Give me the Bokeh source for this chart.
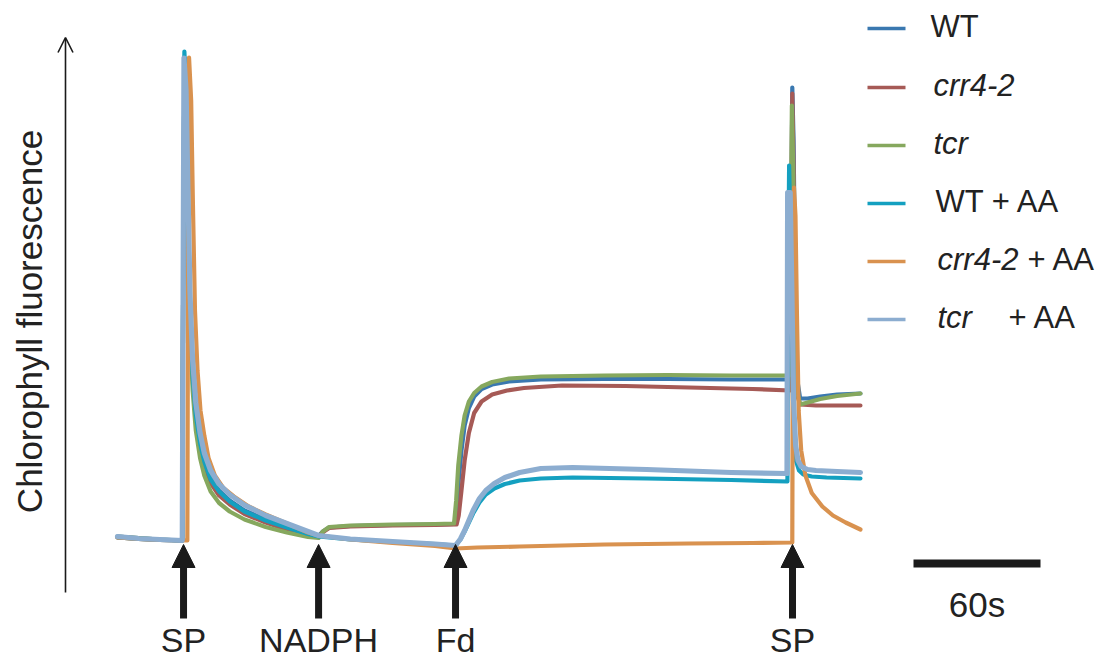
from bokeh.plotting import figure
from bokeh.models import Range1d, Arrow, NormalHead, OpenHead, Label
from bokeh.embed import file_html
from bokeh.resources import INLINE

# ---------------- data (time in s, fluorescence in arbitrary units) ----------------
series_names = ["WT", "crr4-2", "tcr", "WT + AA", "crr4-2 + AA", "tcr + AA"]
colors = ["#3a78b0", "#a65a56", "#86a85e", "#14a0c0", "#d9924f", "#8cadd0"]

t_wt = [0, 10, 20, 30.6, 31.0, 31.6, 32.4, 33.2, 34.2, 35.5, 37, 39, 41, 44, 48, 53, 60, 70, 80, 90, 95,
        97, 100, 110, 130, 150, 159.2, 160.2, 161.2, 162.5, 164, 166, 168.5, 172, 177, 185, 200, 230, 260,
        290, 317.8, 318.3, 318.8, 319.4, 320.2, 321.2, 322.5, 326, 332, 340, 351]
f_wt = [10.8, 10.5, 10.2, 10.0, 60, 106.5, 100, 80, 58, 44, 36, 30, 26, 22.5, 20, 18, 16, 14.2, 12.8, 11.4, 10.9,
        11.8, 12.6, 12.9, 13.1, 13.2, 13.3, 16, 22, 28, 33, 36.5, 38.8, 40.3, 41.2, 41.8, 42.2, 42.3, 42.3,
        42.2, 42.2, 70, 100.6, 90, 60, 42, 38.4, 38.4, 38.8, 39.2, 39.4]

t_crr = [0, 10, 20, 30.6, 31.0, 31.6, 32.4, 33.2, 34.2, 35.5, 37, 39, 41, 44, 48, 53, 60, 70, 80, 90, 95,
         97.5, 100, 110, 130, 150, 160.2, 161.2, 162.5, 164, 166, 168.5, 172, 177, 184, 192, 210, 240, 270,
         300, 317.8, 318.3, 318.8, 319.4, 320.2, 321.2, 322.5, 330, 340, 351]
f_crr = [10.6, 10.3, 10.1, 10.0, 60, 106.5, 99, 78, 56, 42, 34.5, 28.5, 25, 21.5, 19, 17.2, 15.3, 13.6, 12.2, 11.1, 10.8,
         11.8, 12.5, 12.8, 13.0, 13.1, 13.2, 15, 20, 26, 31.5, 35.5, 37.8, 39.2, 40.0, 40.5, 41.0, 40.9, 40.6,
         40.3, 40.0, 70, 99.4, 85, 55, 39, 37.2, 37.0, 37.0, 37.0]

t_tcr = [0, 10, 20, 30.6, 31.0, 31.6, 32.4, 33.2, 34.2, 35.5, 37, 39, 41, 44, 48, 53, 60, 70, 80, 90, 95,
         97, 100, 110, 130, 150, 159.0, 160.0, 161.0, 162.5, 164, 166, 168.5, 172, 177, 185, 200, 230, 260,
         290, 317.6, 318.1, 318.6, 319.2, 320.0, 321.0, 322.5, 326, 332, 340, 351]
f_tcr = [10.8, 10.5, 10.2, 10.0, 60, 106.5, 98, 76, 53, 40, 32, 26.5, 23, 19.8, 17.5, 15.8, 14.2, 12.7, 11.6, 10.7, 10.5,
         11.8, 12.7, 13.0, 13.2, 13.3, 13.4, 18, 25, 31, 35, 37.8, 39.5, 40.8, 41.7, 42.4, 42.8, 43.0, 43.1,
         43.0, 43.0, 70, 97, 85, 55, 40, 37.2, 37.6, 38.3, 38.9, 39.4]

t_wtaa = [0, 10, 20, 30.6, 31.0, 31.6, 32.4, 33.2, 34.2, 35.5, 37, 39, 41, 44, 48, 53, 60, 70, 80, 90, 95,
          110, 130, 150, 159.7, 162, 164, 166, 168, 171, 174, 178, 183, 190, 200, 215, 250, 290, 316.5,
          316.8, 317.3, 318.0, 318.8, 319.6, 320.5, 322, 324, 328, 335, 351]
f_wtaa = [10.6, 10.3, 10.1, 10.0, 60, 107.8, 99, 79, 57, 43, 35, 29.5, 25.8, 22.2, 19.8, 17.8, 15.8, 14.0, 12.6, 11.3, 10.8,
          10.2, 9.7, 9.3, 9.0, 10.2, 11.8, 13.6, 15.4, 17.6, 19.2, 20.4, 21.3, 22.0, 22.4, 22.6, 22.4, 22.1, 21.8,
          60, 85, 70, 45, 30, 26, 24, 23.2, 22.8, 22.6, 22.4]

t_crraa = [0, 10, 20, 33.0, 33.3, 33.8, 34.8, 35.6, 36.6, 37.8, 39.2, 41, 43, 46, 50, 55, 62, 70, 80, 90, 95,
           110, 130, 150, 159.7, 170, 190, 230, 270, 300, 318.8, 319.1, 319.6, 320.3, 321.0, 321.8, 323, 325,
           328, 333, 338, 344, 351]
f_crraa = [10.6, 10.3, 10.1, 10.0, 60, 106.6, 98, 78, 56, 44, 36, 31, 26.5, 23, 20.5, 18.8, 16.8, 15.2, 13.4, 11.6, 11.0,
           10.2, 9.5, 8.9, 8.4, 8.6, 8.8, 9.2, 9.4, 9.5, 9.6, 60, 80.6, 75, 55, 36, 28, 23,
           19.5, 16.8, 15.0, 13.6, 12.2]

t_tcraa = [0, 10, 20, 30.6, 31.0, 31.4, 32.4, 33.2, 34.2, 35.5, 37, 39, 41, 44, 48, 53, 60, 70, 80, 90, 95,
           110, 130, 150, 159.7, 162, 164, 166, 168, 171, 174, 178, 183, 190, 200, 215, 250, 290, 316.3,
           316.6, 317.8, 318.6, 319.4, 320.4, 321.5, 323, 326, 330, 340, 351]
f_tcraa = [10.8, 10.4, 10.2, 10.0, 60, 106.5, 100, 82, 60, 46, 37.5, 31.5, 27.5, 24, 21.3, 19.2, 17.1, 15.0, 13.4, 11.8, 11.0,
           10.3, 9.8, 9.3, 9.0, 10.3, 12, 14, 16, 18.4, 20, 21.4, 22.6, 23.6, 24.4, 24.6, 24.2, 23.6, 23.4,
           79.6, 79.6, 60, 38, 29, 26, 24.8, 24.2, 24.0, 23.8, 23.6]

series_t = [t_wt, t_crr, t_tcr, t_wtaa, t_crraa, t_tcraa]
series_f = [f_wt, f_crr, f_tcr, f_wtaa, f_crraa, f_tcraa]

event_labels = ["SP", "NADPH", "Fd", "SP"]
event_times = [31.2, 95.0, 159.7, 318.9]
scale_bar_s = 60
scale_label = "60s"
y_label = "Chlorophyll fluorescence"

# ---------------- layout helpers (pixel -> data) ----------------
W, H = 1100, 662
def X(px):
    return (px - 117) * 60.0 / 127.0
def Y(py):
    return (590.0 - py) / 5.0

FONT = "Liberation Sans"
TXT = "#222222"
INK = "#1a1a1a"
SHIFT = 13  # label baseline correction (px)

p = figure(width=W, height=H, output_backend="svg", toolbar_location=None,
           x_range=Range1d(X(0), X(W)), y_range=Range1d(Y(H), Y(0)),
           x_axis_location=None, y_axis_location=None, min_border=0,
           outline_line_color=None, background_fill_color="white",
           border_fill_color="white")
p.xgrid.visible = False
p.ygrid.visible = False

widths = [4.2, 4.2, 4.2, 4.2, 4.2, 5.2]
for t, f, c, lw in zip(series_t, series_f, colors, widths):
    p.line(t, f, line_color=c, line_width=lw, line_join="round", line_cap="round")

# event arrows and labels
for lab, te in zip(event_labels, event_times):
    p.add_layout(Arrow(end=NormalHead(size=23, fill_color=INK, line_color=INK, line_width=1),
                       x_start=te, y_start=Y(618), x_end=te, y_end=Y(544),
                       line_width=7, line_color=INK))
    p.add_layout(Label(x=te, y=Y(652 - SHIFT), text=lab, text_align="center", text_baseline="alphabetic",
                       text_font=FONT, text_font_size="34px", text_color=TXT))

# scale bar
p.segment(x0=[X(913)], x1=[X(913) + scale_bar_s], y0=[Y(563)], y1=[Y(563)],
          line_width=8, line_color=INK)
p.add_layout(Label(x=X(913) + scale_bar_s / 2, y=Y(617 - SHIFT), text=scale_label, text_align="center",
                   text_baseline="alphabetic", text_font=FONT, text_font_size="35px", text_color=TXT))

# y axis arrow and label
p.add_layout(Arrow(end=OpenHead(size=15, line_width=1.6, line_color=INK),
                   x_start=X(65), y_start=Y(592), x_end=X(65), y_end=Y(37),
                   line_width=1.6, line_color=INK))
p.add_layout(Label(x=X(29), y=Y(321), text=y_label, angle=90, angle_units="deg",
                   text_align="center", text_baseline="middle",
                   text_font=FONT, text_font_size="35px", text_color=TXT))

# legend (drawn manually: italic genotype names)
leg_y = [28, 87, 145, 203, 261, 319]
leg_parts = [
    [("WT", "normal", 930)],
    [("crr4-2", "italic", 933)],
    [("tcr", "italic", 933)],
    [("WT + AA", "normal", 935)],
    [("crr4-2", "italic", 937), ("+ AA", "normal", 1027)],
    [("tcr", "italic", 937), ("+ AA", "normal", 1008)],
]
for c, ly, parts in zip(colors, leg_y, leg_parts):
    p.segment(x0=[X(867)], x1=[X(905)], y0=[Y(ly)], y1=[Y(ly)], line_color=c, line_width=3.5)
    for txt, style, px in parts:
        p.add_layout(Label(x=X(px), y=Y(ly + 11 - SHIFT), text=txt, text_align="left",
                           text_baseline="alphabetic", text_font=FONT, text_font_size="31px",
                           text_font_style=style, text_color=TXT))

open("out.html", "w").write(file_html(p, INLINE))
